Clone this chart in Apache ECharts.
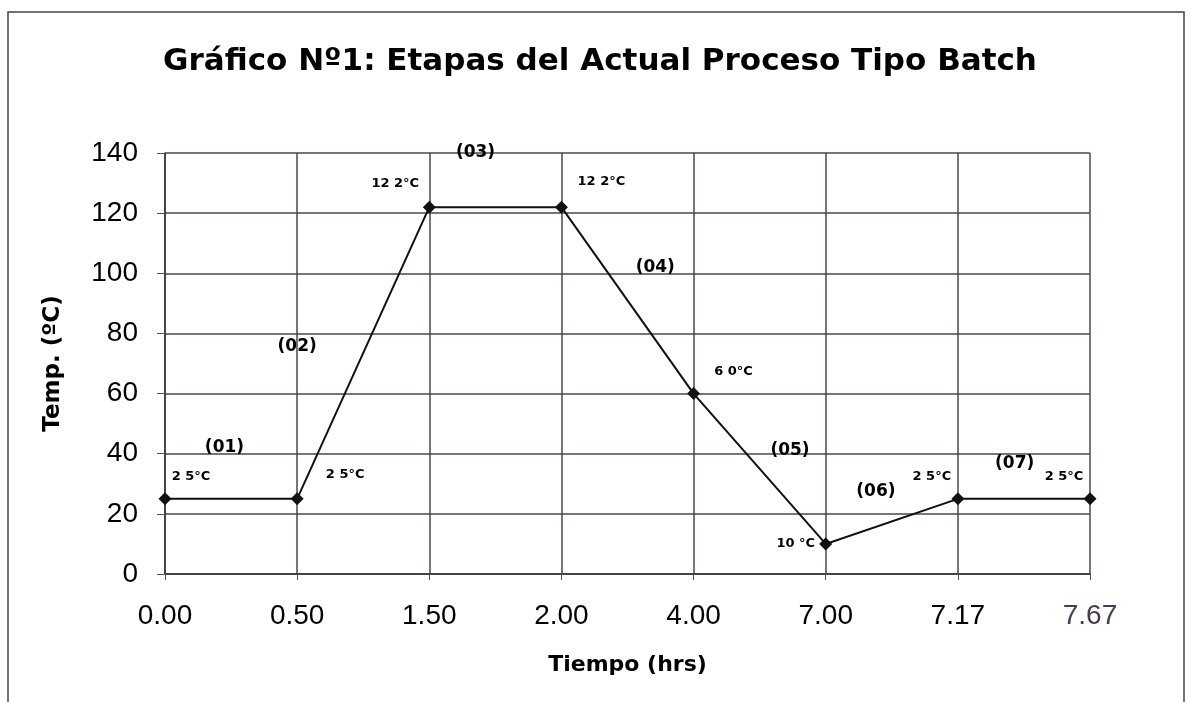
<!DOCTYPE html>
<html>
<head>
<meta charset="utf-8">
<script src="https://cdn.jsdelivr.net/npm/echarts@6/dist/echarts.min.js"></script>
<style>html,body{margin:0;padding:0;background:#fff}#c{width:1200px;height:702px}</style>
</head>
<body>
<div id="c"></div>
<script>
// ---- data ----
const timeLabels = ['0.00', '0.50', '1.50', '2.00', '4.00', '7.00', '7.17', '7.67'];
const temps = [25, 25, 122, 122, 60, 10, 25, 25];
const pointLabels = ['2 5°C', '2 5°C', '12 2°C', '12 2°C', '6 0°C', '10 °C', '2 5°C', '2 5°C'];
const stageNames = ['(01)', '(02)', '(03)', '(04)', '(05)', '(06)', '(07)'];
const stageX = [0.45, 1.0, 2.35, 3.71, 4.73, 5.38, 6.43];
const stageY = [42.2, 75.5, 140.3, 101.8, 40.9, 27.3, 36.6];

const FONT = 'DejaVu Sans, Verdana, sans-serif';
const AFONT = 'Liberation Sans, Arial, sans-serif';
// label offsets (styling)
const labelOffsets = [[26, -22], [48, -24], [-34, -24], [40, -26], [40, -22], [-30, 0], [-26, -22], [-26, -22]];

const chart = echarts.init(document.getElementById('c'));
const lineData = temps.map((t, i) => ({
  value: [i, t],
  label: {
    show: true,
    formatter: pointLabels[i],
    position: 'inside',
    offset: labelOffsets[i],
    fontSize: 13,
    fontWeight: 'bold',
    color: '#000',
    fontFamily: FONT
  }
}));
const stageData = stageNames.map((n, i) => ({ value: [stageX[i], stageY[i]], name: n }));

chart.setOption({
  animation: false,
  backgroundColor: '#fff',
  title: {
    text: 'Gráfico Nº1: Etapas del Actual Proceso Tipo Batch',
    left: 'center',
    top: 41,
    textStyle: { fontSize: 31, fontWeight: 'bold', color: '#000', fontFamily: FONT }
  },
  graphic: [{
    type: 'rect', shape: { x: 8, y: 12, width: 1176, height: 700 },
    style: { fill: 'none', stroke: '#444', lineWidth: 1.5 }, silent: true, z: -1
  }],
  grid: { left: 165, right: 110, top: 153, bottom: 128 },
  xAxis: {
    type: 'value', min: 0, max: 7, interval: 1,
    name: 'Tiempo (hrs)', nameLocation: 'middle', nameGap: 80,
    nameTextStyle: { fontSize: 22, fontWeight: 'bold', color: '#000', fontFamily: FONT },
    axisLine: { show: true, lineStyle: { color: '#333', width: 1.5 } },
    axisTick: { show: true, length: 6, lineStyle: { color: '#555' } },
    axisLabel: {
      formatter: v => v === 7 ? '{p|' + timeLabels[v] + '}' : (timeLabels[v] || ''),
      rich: { p: { fontSize: 28, color: '#4a3a58', fontFamily: AFONT } },
      fontSize: 28, margin: 28, color: '#000', fontFamily: AFONT
    },
    splitLine: { show: true, lineStyle: { color: '#4e4450', width: 1.5 } }
  },
  yAxis: {
    type: 'value', min: 0, max: 140, interval: 20,
    name: 'Temp. (ºC)', nameLocation: 'middle', nameGap: 100, nameRotate: 90,
    nameTextStyle: { fontSize: 23, fontWeight: 'bold', color: '#000', fontFamily: FONT },
    axisLine: { show: true, lineStyle: { color: '#333', width: 1.5 } },
    axisTick: { show: true, length: 8, lineStyle: { color: '#555' } },
    axisLabel: { fontSize: 28, margin: 27, color: '#000', fontFamily: AFONT },
    splitLine: { show: true, lineStyle: { color: '#4e4450', width: 1.5 } }
  },
  series: [{
    type: 'line',
    data: lineData,
    symbol: 'diamond',
    symbolSize: 13,
    itemStyle: { color: '#111' },
    lineStyle: { color: '#111', width: 2 },
    z: 3
  }, {
    type: 'scatter',
    data: stageData,
    symbolSize: 1,
    clip: false,
    itemStyle: { color: 'rgba(0,0,0,0)', opacity: 1 },
    label: {
      show: true, formatter: p => p.name, position: 'inside',
      fontSize: 17, fontWeight: 'bold', color: '#000', opacity: 1,
      fontFamily: FONT
    },
    z: 4
  }]
});
</script>
</body>
</html>
